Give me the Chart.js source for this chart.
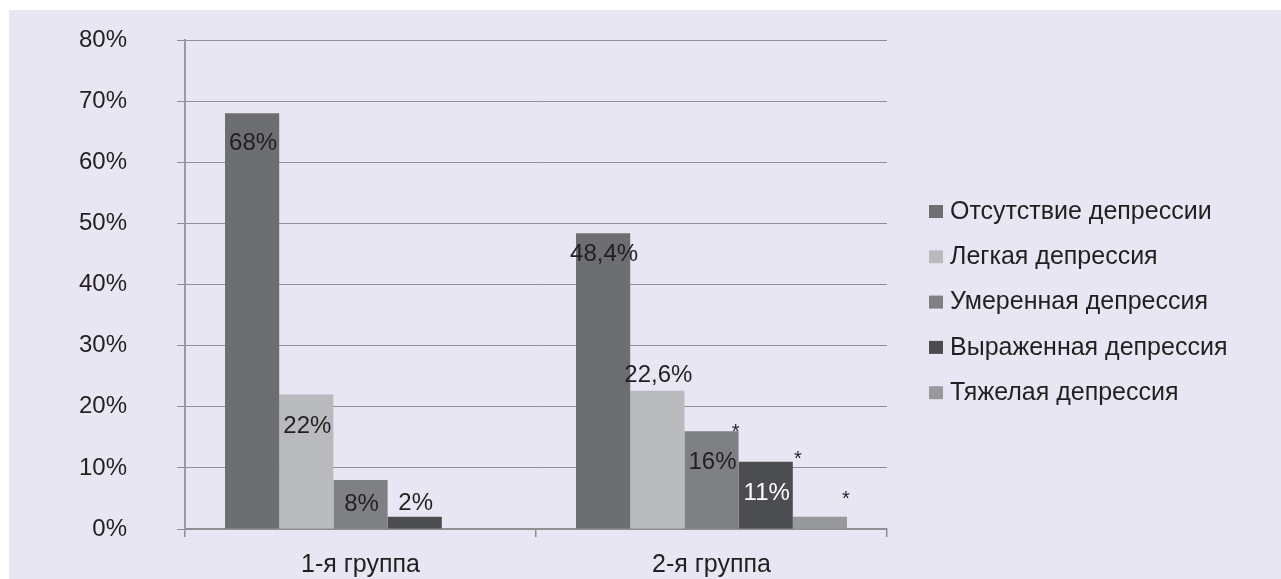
<!DOCTYPE html>
<html>
<head>
<meta charset="utf-8">
<script src="https://cdn.jsdelivr.net/npm/chart.js@4/dist/chart.umd.min.js"></script>
<style>
  html, body { margin: 0; padding: 0; background: #ffffff; }
  #wrap { position: absolute; left: 9px; top: 10px; width: 1272px; height: 569px; background: #e8e6f2; }
</style>
</head>
<body>
<div id="wrap"><canvas id="chart" width="1272" height="569"></canvas></div>
<script>
// categories and series (percent)
const groups = ['1-я группа', '2-я группа'];
const seriesNames = ['Отсутствие депрессии', 'Легкая депрессия', 'Умеренная депрессия', 'Выраженная депрессия', 'Тяжелая депрессия'];
const noDepression = [68, 48.4];
const mild = [22, 22.6];
const moderate = [8, 16];
const marked = [2, 11];
const severe = [null, 2];
// significance marks (*) for group 2
const starMarks = [[false, false], [false, false], [false, true], [false, true], [false, true]];
const yTicks = [0, 10, 20, 30, 40, 50, 60, 70, 80];

const colors = ['#6d6e72', '#b9babd', '#7f8084', '#4c4d50', '#98999c'];
const textColor = '#231f20';
const fontFamily = '"Liberation Sans", Arial, Helvetica, sans-serif';

// label placement relative to bar top (px, + is down), per dataset per group
const labelDy = [[29, 20], [31, -16], [23, 30], [-14, 31], [0, 0]];
const labelColor = [[textColor, textColor], [textColor, textColor], [textColor, textColor], [textColor, '#ffffff'], [textColor, textColor]];
const starPos = [[null, null], [null, null], [null, [-3, -3]], [null, [5, -6]], [null, [-1, -21]]];

const valueLabels = {
    id: 'valueLabels',
    afterDatasetsDraw(chart) {
        const ctx = chart.ctx;
        ctx.save();
        chart.data.datasets.forEach((ds, di) => {
            const meta = chart.getDatasetMeta(di);
            meta.data.forEach((bar, gi) => {
                const v = ds.data[gi];
                if (v === null || v === undefined) return;
                if (di !== 4) {
                    ctx.font = '24px ' + fontFamily;
                    ctx.fillStyle = labelColor[di][gi];
                    ctx.textAlign = 'center';
                    ctx.textBaseline = 'middle';
                    ctx.fillText(String(v).replace('.', ',') + '%', bar.x + 1, bar.y + labelDy[di][gi] + 1);
                }
                if (starMarks[di][gi]) {
                    const p = starPos[di][gi];
                    ctx.font = '20px ' + fontFamily;
                    ctx.fillStyle = textColor;
                    ctx.textAlign = 'center';
                    ctx.textBaseline = 'middle';
                    ctx.fillText('*', bar.x + bar.width / 2 + p[0], bar.y + p[1] + 4);
                }
            });
        });
        ctx.restore();
    }
};

// legend drawn to the right of the plot
const sideLegend = {
    id: 'sideLegend',
    afterDraw(chart) {
        const ctx = chart.ctx;
        ctx.save();
        ctx.font = '25px ' + fontFamily;
        ctx.textBaseline = 'middle';
        ctx.textAlign = 'left';
        chart.data.datasets.forEach((ds, i) => {
            const y = 202 + i * 45.3;
            ctx.fillStyle = ds.backgroundColor;
            ctx.fillRect(920, y - 7, 14, 13);
            ctx.fillStyle = textColor;
            ctx.fillText(ds.label, 941, y);
        });
        ctx.restore();
    }
};

const seriesData = [noDepression, mild, moderate, marked, severe];

new Chart(document.getElementById('chart'), {
    type: 'bar',
    data: {
        labels: groups,
        datasets: seriesNames.map((name, i) => ({
            label: name,
            data: seriesData[i],
            backgroundColor: colors[i],
            borderWidth: 0,
            barPercentage: 1,
            categoryPercentage: 0.772
        }))
    },
    options: {
        responsive: false,
        devicePixelRatio: 1,
        animation: false,
        layout: { padding: { top: 30, right: 394, left: 0, bottom: 0 } },
        plugins: { legend: { display: false }, tooltip: { enabled: false } },
        scales: {
            x: {
                grid: { display: true, drawOnChartArea: false, offset: true, tickLength: 8, color: '#8f8f94', lineWidth: 1.5 },
                border: { display: true, color: '#8f8f94', width: 1.5 },
                ticks: { color: textColor, font: { family: fontFamily, size: 25 }, padding: 13 },
                afterFit(scale) { scale.height = 50; }
            },
            y: {
                min: 0,
                max: 80,
                afterBuildTicks(scale) { scale.ticks = yTicks.map(v => ({ value: v })); },
                grid: { color: '#8f8f94', lineWidth: 1, tickLength: 8 },
                border: { display: true, color: '#9a9aa0', width: 2 },
                ticks: { color: textColor, font: { family: fontFamily, size: 24 }, padding: 50, callback: v => v + '%' },
                afterFit(scale) {
                    scale.width = 176;
                    // the big label gap should not push the plot down
                    scale.paddingTop = 14;
                    scale.paddingBottom = 14;
                }
            }
        }
    },
    plugins: [valueLabels, sideLegend]
});
</script>
</body>
</html>
